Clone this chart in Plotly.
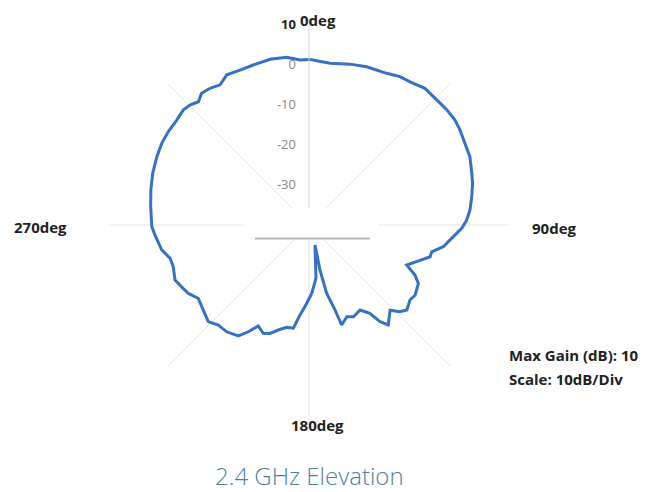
import plotly.graph_objects as go

# Elevation pattern (angle clockwise from 0deg, gain in dB)
theta_deg = [0.4, 2.7, 7.4, 14.3, 20.0, 27.1, 31.5, 35.2, 40.3, 45.6, 50.1, 54.3, 57.8, 62.4,
             67.0, 72.4, 75.7, 80.1, 84.7, 88.2, 91.2, 94.6, 99.2, 102.3, 104.7, 108.8, 112.3,
             115.3, 118.1, 123.4, 126.6, 131.0, 133.6, 136.4, 141.6, 143.7, 145.4, 149.0, 154.2,
             157.6, 161.9, 163.0, 165.5, 166.3, 163.3, 172.5, 177.7, 182.8, 185.7, 188.6, 192.3,
             196.3, 199.8, 202.9, 206.7, 209.6, 212.5, 217.6, 222.2, 226.2, 232.7, 236.5, 240.5,
             244.1, 247.7, 253.0, 256.5, 260.4, 266.3, 269.4, 276.6, 282.5, 288.3, 294.2, 299.0,
             303.6, 308.4, 312.5, 315.2, 318.1, 320.8, 324.1, 327.6, 331.3, 336.0, 340.8, 346.8,
             352.4, 356.9, 360.4]
gain_db = [1.4, 1.1, 0.8, 1.5, 2.1, 2.6, 3.5, 3.8, 4.8, 4.7, 4.9, 4.95, 4.6, 4.0,
           3.7, 2.7, 2.2, 1.3, 0.4, -0.55, -1.8, -3.8, -6.0, -8.6, -8.7, -11.6, -13.6,
           -10.7, -9.0, -8.2, -8.55, -7.6, -8.6, -10.6, -8.1, -10.0, -13.2, -15.2, -14.5,
           -15.2, -13.7, -17.8, -22.4, -28.4, -34.8, -26.6, -22.9, -19.6, -17.4, -13.9, -13.8,
           -12.65, -11.2, -10.6, -11.75, -9.3, -7.1, -6.3, -6.25, -5.1, -6.3, -6.8, -5.3,
           -4.6, -3.8, -4.5, -4.3, -2.65, -1.4, -0.7, -0.15, 0.5, 1.15, 1.7, 2.1,
           2.2, 2.2, 2.6, 2.25, 1.4, 2.5, 2.2, 1.5, 2.8, 2.4, 2.35, 2.55,
           2.3, 1.3, 1.4]

radial_ticks = [10, 0, -10, -20, -30]
radial_text = ['<b><span style="color:#222">10</span></b>', '0', '-10', '-20', '-30']
angle_labels = ['0deg', '90deg', '180deg', '270deg']

# the page body has an 8px margin, so the figure is drawn 8px in from the window edge
OFF = 8
W, H = 659 - OFF, 492 - OFF
def px(x): return (x - OFF) / W
def py(y): return 1 - (y - OFF) / H

fig = go.Figure()
fig.add_trace(go.Scatterpolar(
    r=gain_db, theta=theta_deg, mode='lines',
    line=dict(color='#3572c6', width=3), hoverinfo='skip'))

label_font = dict(family='Open Sans', size=15, color='#222222', weight='bold')
label_pos = [(318, 8), (554, 228), (317, 425), (40, 227)]
annotations = []
for txt, (x, y) in zip(angle_labels, label_pos):
    annotations.append(dict(text=txt, x=px(x), y=py(y), xref='paper', yref='paper',
                            showarrow=False, font=label_font, xanchor='center',
                            yanchor='top' if txt == '0deg' else 'middle'))
for txt, y in [('Max Gain (dB): 10', 355), ('Scale: 10dB/Div', 379)]:
    annotations.append(dict(text=txt, x=px(507), y=py(y), xref='paper', yref='paper',
                            showarrow=False, xanchor='left', yanchor='middle',
                            font=dict(family='Open Sans', size=15, color='#222222', weight='bold')))
annotations.append(dict(text='2.4 GHz Elevation', x=px(309), y=py(475), xref='paper', yref='paper',
                        showarrow=False, xanchor='center', yanchor='middle',
                        font=dict(family='Open Sans', size=24, color='#4f7fa0', weight=300)))

fig.update_layout(
    width=W, height=H, margin=dict(l=0, r=0, t=0, b=0),
    paper_bgcolor='white', plot_bgcolor='white', showlegend=False,
    polar=dict(
        domain=dict(x=[px(109), px(509)], y=[py(425), py(25)]),
        bgcolor='rgba(0,0,0,0)',
        angularaxis=dict(rotation=90, direction='clockwise', dtick=45, showticklabels=False,
                         ticks='', showline=False, gridcolor='#e6e6e6', gridwidth=1),
        radialaxis=dict(range=[-40, 10], angle=90, tickangle=90, tickvals=radial_ticks,
                        ticktext=radial_text,
                        showgrid=False, showline=True, linecolor='#dcdcdc', linewidth=1,
                        ticks='outside', ticklen=8, tickcolor='rgba(0,0,0,0)',
                        side='counterclockwise',
                        tickfont=dict(family='Open Sans', size=13, color='#8a8a8a')),
    ),
    annotations=annotations,
    shapes=[
        dict(type='rect', xref='paper', yref='paper', x0=px(244), x1=px(378), y0=py(240), y1=py(208),
             fillcolor='white', line=dict(width=0), layer='above'),
        dict(type='line', xref='paper', yref='paper', x0=px(255), x1=px(370), y0=py(238.5), y1=py(238.5),
             line=dict(color='#b4b4b4', width=2), layer='above'),
    ],
)

fig.write_html('out.html')
